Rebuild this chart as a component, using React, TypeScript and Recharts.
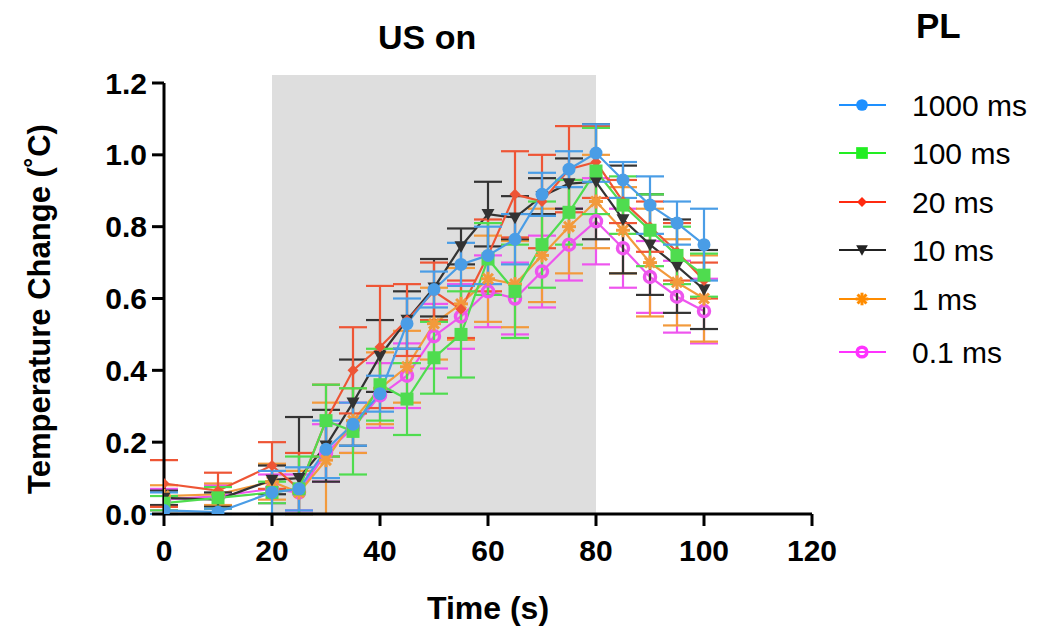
import React from "react"
import { LineChart, Line, XAxis, YAxis, ErrorBar, ReferenceArea } from "recharts"

// time points (s)
const times = [0, 10, 20, 25, 30, 35, 40, 45, 50, 55, 60, 65, 70, 75, 80, 85, 90, 95, 100]

// mean temperature change per pulse length
const pl1000 = [0.01, 0.005, 0.06, 0.07, 0.18, 0.25, 0.335, 0.53, 0.625, 0.695, 0.72, 0.765, 0.89, 0.96, 1.005, 0.93, 0.86, 0.81, 0.75]
const pl100 = [0.03, 0.045, 0.06, 0.07, 0.26, 0.23, 0.36, 0.32, 0.435, 0.5, 0.71, 0.62, 0.75, 0.84, 0.955, 0.86, 0.79, 0.72, 0.665]
const pl20 = [0.085, 0.065, 0.135, 0.07, 0.26, 0.4, 0.465, 0.54, 0.62, 0.57, 0.72, 0.89, 0.87, 0.96, 0.98, 0.87, 0.8, 0.73, 0.65]
const pl10 = [0.045, 0.04, 0.095, 0.1, 0.19, 0.31, 0.44, 0.54, 0.63, 0.745, 0.835, 0.825, 0.885, 0.92, 0.925, 0.82, 0.75, 0.69, 0.625]
const pl1 = [0.05, 0.055, 0.09, 0.06, 0.15, 0.26, 0.35, 0.41, 0.53, 0.585, 0.655, 0.64, 0.72, 0.8, 0.87, 0.79, 0.7, 0.645, 0.6]
const pl01 = [0.04, 0.05, 0.07, 0.06, 0.17, 0.24, 0.33, 0.385, 0.495, 0.55, 0.62, 0.6, 0.675, 0.75, 0.815, 0.74, 0.66, 0.605, 0.565]

// error (SEM) per pulse length
const err1000 = [0.05, 0.01, 0.06, 0.06, 0.08, 0.06, 0.05, 0.07, 0.05, 0.06, 0.08, 0.07, 0.06, 0.05, 0.08, 0.05, 0.08, 0.06, 0.1]
const err100 = [0.02, 0.03, 0.03, 0.09, 0.1, 0.12, 0.1, 0.1, 0.1, 0.12, 0.1, 0.13, 0.12, 0.09, 0.12, 0.08, 0.1, 0.08, 0.06]
const err20 = [0.065, 0.05, 0.065, 0.1, 0.1, 0.12, 0.17, 0.1, 0.08, 0.08, 0.1, 0.12, 0.13, 0.12, 0.1, 0.06, 0.07, 0.08, 0.05]
const err10 = [0.02, 0.02, 0.04, 0.17, 0.1, 0.12, 0.1, 0.08, 0.08, 0.05, 0.09, 0.06, 0.05, 0.07, 0.16, 0.15, 0.14, 0.13, 0.11]
const err1 = [0.03, 0.03, 0.05, 0.06, 0.16, 0.09, 0.1, 0.1, 0.1, 0.1, 0.12, 0.12, 0.13, 0.13, 0.13, 0.12, 0.15, 0.12, 0.12]
const err01 = [0.03, 0.03, 0.04, 0.05, 0.08, 0.07, 0.09, 0.09, 0.09, 0.09, 0.1, 0.1, 0.1, 0.1, 0.12, 0.11, 0.1, 0.1, 0.09]

const xTicks = [0, 20, 40, 60, 80, 100, 120]
const yTicks = [0, 0.2, 0.4, 0.6, 0.8, 1.0, 1.2]

const FONT = '"Liberation Sans", Arial, Helvetica, sans-serif'

type Shape = "circle" | "square" | "diamond" | "triangle" | "star" | "ring"

const series: { key: string; err: string; name: string; color: string; shape: Shape; values: number[]; errors: number[] }[] = [
  { key: "p01", err: "e01", name: "0.1 ms", color: "#ee55ee", shape: "ring", values: pl01, errors: err01 },
  { key: "p1", err: "e1", name: "1 ms", color: "#f29a3c", shape: "star", values: pl1, errors: err1 },
  { key: "p10", err: "e10", name: "10 ms", color: "#333333", shape: "triangle", values: pl10, errors: err10 },
  { key: "p20", err: "e20", name: "20 ms", color: "#ee5535", shape: "diamond", values: pl20, errors: err20 },
  { key: "p100", err: "e100", name: "100 ms", color: "#4fdc4f", shape: "square", values: pl100, errors: err100 },
  { key: "p1000", err: "e1000", name: "1000 ms", color: "#4a9de6", shape: "circle", values: pl1000, errors: err1000 },
]

const legendOrder = ["p1000", "p100", "p20", "p10", "p1", "p01"]
const legendColors: Record<string, string> = {
  p1000: "#1e90ff",
  p100: "#22ee22",
  p20: "#ff2a10",
  p10: "#222222",
  p1: "#ff8c00",
  p01: "#ff33ff",
}

// error bars are cut at the x axis, like in the original plot
const data = times.map((t, i) => {
  const row: Record<string, any> = { t }
  series.forEach(s => {
    const v = s.values[i]
    const e = s.errors[i]
    row[s.key] = v
    row[s.err] = [Math.min(e, v), e]
  })
  return row
})

function Marker({ shape, color, cx, cy, scale = 1 }: { shape: Shape; color: string; cx: number; cy: number; scale?: number }) {
  const r = 6.5 * scale
  switch (shape) {
    case "circle":
      return <circle cx={cx} cy={cy} r={r} fill={color} />
    case "square":
      return <rect x={cx - r} y={cy - r} width={r * 2} height={r * 2} fill={color} />
    case "diamond": {
      const d = 5.5 * scale
      return <polygon points={`${cx},${cy - d} ${cx + d},${cy} ${cx},${cy + d} ${cx - d},${cy}`} fill={color} />
    }
    case "triangle": {
      const d = 6.5 * scale
      return <polygon points={`${cx - d},${cy - d * 0.8} ${cx + d},${cy - d * 0.8} ${cx},${cy + d}`} fill={color} />
    }
    case "star": {
      const d = 7 * scale
      const lines = [0, 45, 90, 135].map(a => {
        const rad = (a * Math.PI) / 180
        const dx = Math.cos(rad) * d
        const dy = Math.sin(rad) * d
        return <line key={a} x1={cx - dx} y1={cy - dy} x2={cx + dx} y2={cy + dy} stroke={color} strokeWidth={3} />
      })
      return <g>{lines}</g>
    }
    case "ring":
      return <circle cx={cx} cy={cy} r={r - 1} fill="none" stroke={color} strokeWidth={3.5} />
  }
}

const tickStyle = { fontSize: 30, fontWeight: 700, fill: "#000", fontFamily: FONT }

export default function App() {
  return (
    <div style={{ position: "absolute", left: 0, top: 0, width: 1053, height: 634, background: "#fff", fontFamily: FONT }}>
      <LineChart width={1053} height={634} data={data} margin={{ top: 83, right: 241, left: 0, bottom: 0 }}>
        <ReferenceArea x1={20} x2={80} y1={0} y2={1.222} fill="#dedede" fillOpacity={1} stroke="none" ifOverflow="visible" />
        <XAxis
          dataKey="t"
          type="number"
          domain={[0, 120]}
          allowDataOverflow
          ticks={xTicks}
          height={120}
          tick={tickStyle}
          tickSize={12}
          tickMargin={14}
          axisLine={{ stroke: "#000", strokeWidth: 3 }}
          tickLine={{ stroke: "#000", strokeWidth: 3 }}
          label={{
            content: () => (
              <text x={488} y={619} textAnchor="middle" fontSize={32} fontWeight={700} fontFamily={FONT} fill="#000">
                Time (s)
              </text>
            ),
          }}
        />
        <YAxis
          type="number"
          domain={[0, 1.2]}
          allowDataOverflow
          ticks={yTicks}
          width={164}
          tick={tickStyle}
          tickFormatter={(v: number) => v.toFixed(1)}
          tickSize={12}
          tickMargin={5}
          axisLine={{ stroke: "#000", strokeWidth: 3 }}
          tickLine={{ stroke: "#000", strokeWidth: 3 }}
          label={{
            content: () => (
              <text
                transform="translate(50,309) rotate(-90)"
                textAnchor="middle"
                fontSize={31}
                fontWeight={700}
                fontFamily={FONT}
                fill="#000"
              >
                Temperature Change (˚C)
              </text>
            ),
          }}
        />
        {series.map(s => (
          <Line
            key={s.key}
            dataKey={s.key}
            stroke={s.color}
            strokeWidth={2.2}
            isAnimationActive={false}
            activeDot={false}
            dot={(p: any) => <Marker key={`${s.key}-${p.index}`} shape={s.shape} color={s.color} cx={p.cx} cy={p.cy} />}
          >
            <ErrorBar dataKey={s.err} direction="y" width={14} stroke={s.color} strokeWidth={2.2} />
          </Line>
        ))}
      </LineChart>

      <div style={{ position: "absolute", left: 378, top: 18, fontSize: 34, fontWeight: 700, color: "#000" }}>US on</div>
      <div style={{ position: "absolute", left: 916, top: 6, fontSize: 35, fontWeight: 700, color: "#000" }}>PL</div>

      <svg style={{ position: "absolute", left: 0, top: 0 }} width={1053} height={634}>
        {legendOrder.map((k, i) => {
          const s = series.find(x => x.key === k)!
          const c = legendColors[k]
          const ys = [105, 153, 202, 250, 299, 352]
          const y = ys[i]
          return (
            <g key={k}>
              <line x1={839} x2={886} y1={y} y2={y} stroke={c} strokeWidth={2.2} />
              <Marker shape={s.shape} color={c} cx={862} cy={y} scale={0.9} />
              <text x={912} y={y + 11} fontSize={30} fontFamily={FONT} fill="#000">
                {s.name}
              </text>
            </g>
          )
        })}
      </svg>
    </div>
  )
}
